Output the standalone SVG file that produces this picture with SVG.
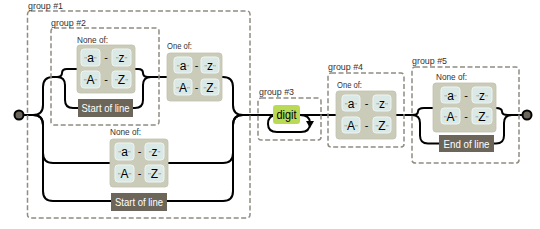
<svg xmlns="http://www.w3.org/2000/svg" width="540" height="229" viewBox="0 0 540 229">
<style>
text{font-family:"Liberation Sans",Arial,sans-serif}
.grp{fill:none;stroke:#908c83;stroke-width:1.5;stroke-dasharray:5,2.5}
.lbl{font-size:9.5px;fill:#333}
.cs{fill:#cbcbba;stroke:#c2c2b0;stroke-width:0.8}
.lit{fill:#dae9e5;stroke:#edf4f2;stroke-width:1}
.lt{font-size:12px;text-anchor:middle;fill:#000}
.q{fill:#908c83;font-size:8px}
.dash{font-size:11px;text-anchor:middle;fill:#000}
.anc{fill:#6b6659}
.at{font-size:11.5px;fill:#fff;text-anchor:middle}
.ln{fill:none;stroke:#000;stroke-width:2}
.term{fill:#6b6659;stroke:#000;stroke-width:2}
.esc{fill:#bada55}
</style>
<g id="connectors">
<path class="ln" d="M23,115 H33"/>
<path class="ln" d="M33,115 q10,0 10,-10 V87 q0,-10 10,-10 H57"/>
<path class="ln" d="M33,115 q10,0 10,10 V153 q0,10 10,10 H110"/>
<path class="ln" d="M33,115 q10,0 10,10 V191 q0,10 10,10 H111"/>
<path class="ln" d="M57,77 q5,0 5,-4 q0,-4 5,-4 H77"/>
<path class="ln" d="M57,77 q8,0 8,8 V100 q0,8 8,8 H78"/>
<path class="ln" d="M135,69 H138 q5,0 5,4 q0,4 5,4 H167"/>
<path class="ln" d="M133,108 H135 q8,0 8,-8 V85 q0,-8 8,-8"/>
<path class="ln" d="M222,77 H223 q10,0 10,10 V105 q0,10 10,10"/>
<path class="ln" d="M168,163 H223 q10,0 10,-10 V125 q0,-10 10,-10"/>
<path class="ln" d="M167,201 H223 q10,0 10,-10 V125 q0,-10 10,-10"/>
<path class="ln" d="M243,115 H273"/>
<path class="ln" d="M300,115 H336"/>
<path class="ln" d="M300,115 q10,0 10,8 q0,9 -9,9 H277 q-9,0 -9,-8 q0,-9 9,-9"/>
<polygon points="306,121 314,121 310,128" fill="#000"/>
<path class="ln" d="M396,115 H412"/>
<path class="ln" d="M412,115 q6,0 6,-3.5 q0,-3.5 6,-3.5 H433"/>
<path class="ln" d="M412,115 q8,0 8,8 V135.5 q0,8 8,8 H439"/>
<path class="ln" d="M496,108 q6,0 6,3.5 q0,3.5 6,3.5 H522"/>
<path class="ln" d="M494,143.5 H496 q8,0 8,-8 V123 q0,-8 8,-8"/>
</g>
<g id="start"><circle class="term" cx="19" cy="115" r="4.5"/></g>
<g id="end"><circle class="term" cx="527" cy="115" r="4.5"/></g>
<g id="group1">
<rect class="grp" x="27.5" y="11" width="222.5" height="207" rx="3"/>
<text class="lbl" x="28" y="9" textLength="35" lengthAdjust="spacingAndGlyphs">group #1</text>
</g>
<g id="group2">
<rect class="grp" x="51" y="28" width="108" height="97" rx="3"/>
<text class="lbl" x="51" y="26" textLength="35" lengthAdjust="spacingAndGlyphs">group #2</text>
</g>
<g id="noneof1">
<text class="lbl" x="77" y="43" textLength="31" lengthAdjust="spacingAndGlyphs">None of:</text>
<rect class="cs" x="77" y="45" width="58" height="48" rx="3"/>
<rect class="lit" x="81" y="49" width="19" height="17" rx="3"/>
<rect class="lit" x="112" y="49" width="19" height="17" rx="3"/>
<rect class="lit" x="81" y="71" width="19" height="17" rx="3"/>
<rect class="lit" x="112" y="71" width="19" height="17" rx="3"/>
<text class="lt" x="90.5" y="62"><tspan class="q">"</tspan>a<tspan class="q">"</tspan></text>
<text class="lt" x="121.5" y="62"><tspan class="q">"</tspan>z<tspan class="q">"</tspan></text>
<text class="lt" x="90.5" y="84"><tspan class="q">"</tspan>A<tspan class="q">"</tspan></text>
<text class="lt" x="121.5" y="84"><tspan class="q">"</tspan>Z<tspan class="q">"</tspan></text>
<text class="dash" x="106" y="61">-</text>
<text class="dash" x="106" y="83">-</text>
</g>
<g id="sol1">
<rect class="anc" x="78" y="99" width="55" height="18"/>
<text class="at" x="105.5" y="112" textLength="48" lengthAdjust="spacingAndGlyphs">Start of line</text>
</g>
<g id="oneof1">
<text class="lbl" x="167" y="49" textLength="25" lengthAdjust="spacingAndGlyphs">One of:</text>
<rect class="cs" x="167" y="53" width="55" height="48" rx="3"/>
<rect class="lit" x="174" y="57" width="18" height="16" rx="3"/>
<rect class="lit" x="201" y="57" width="18" height="16" rx="3"/>
<rect class="lit" x="174" y="79" width="18" height="16" rx="3"/>
<rect class="lit" x="201" y="79" width="18" height="16" rx="3"/>
<text class="lt" x="183" y="69.5"><tspan class="q">"</tspan>a<tspan class="q">"</tspan></text>
<text class="lt" x="210" y="69.5"><tspan class="q">"</tspan>z<tspan class="q">"</tspan></text>
<text class="lt" x="183" y="91.5"><tspan class="q">"</tspan>A<tspan class="q">"</tspan></text>
<text class="lt" x="210" y="91.5"><tspan class="q">"</tspan>Z<tspan class="q">"</tspan></text>
<text class="dash" x="196.5" y="69">-</text>
<text class="dash" x="196.5" y="91">-</text>
</g>
<g id="noneof2">
<text class="lbl" x="110" y="135" textLength="31" lengthAdjust="spacingAndGlyphs">None of:</text>
<rect class="cs" x="110" y="139" width="58" height="48" rx="3"/>
<rect class="lit" x="115" y="143" width="19" height="17" rx="3"/>
<rect class="lit" x="145" y="143" width="19" height="17" rx="3"/>
<rect class="lit" x="115" y="165" width="19" height="17" rx="3"/>
<rect class="lit" x="145" y="165" width="19" height="17" rx="3"/>
<text class="lt" x="124.5" y="156"><tspan class="q">"</tspan>a<tspan class="q">"</tspan></text>
<text class="lt" x="154.5" y="156"><tspan class="q">"</tspan>z<tspan class="q">"</tspan></text>
<text class="lt" x="124.5" y="178"><tspan class="q">"</tspan>A<tspan class="q">"</tspan></text>
<text class="lt" x="154.5" y="178"><tspan class="q">"</tspan>Z<tspan class="q">"</tspan></text>
<text class="dash" x="139.5" y="155">-</text>
<text class="dash" x="139.5" y="177">-</text>
</g>
<g id="sol2">
<rect class="anc" x="111" y="193" width="56" height="18"/>
<text class="at" x="139" y="206" textLength="48" lengthAdjust="spacingAndGlyphs">Start of line</text>
</g>
<g id="group3">
<rect class="grp" x="258" y="98" width="63" height="42" rx="3"/>
<text class="lbl" x="259" y="95" textLength="35" lengthAdjust="spacingAndGlyphs">group #3</text>
<rect class="esc" x="273" y="105" width="27" height="19" rx="3"/>
<text x="286.5" y="119" font-size="12" text-anchor="middle" fill="#000" textLength="20" lengthAdjust="spacingAndGlyphs">digit</text>
</g>
<g id="group4">
<rect class="grp" x="328" y="73" width="76" height="74" rx="3"/>
<text class="lbl" x="328" y="70" textLength="35" lengthAdjust="spacingAndGlyphs">group #4</text>
<text class="lbl" x="337" y="88" textLength="25" lengthAdjust="spacingAndGlyphs">One of:</text>
<rect class="cs" x="336" y="91" width="60" height="48" rx="3"/>
<rect class="lit" x="342" y="95" width="18" height="16" rx="3"/>
<rect class="lit" x="373" y="95" width="18" height="16" rx="3"/>
<rect class="lit" x="342" y="117" width="18" height="16" rx="3"/>
<rect class="lit" x="373" y="117" width="18" height="16" rx="3"/>
<text class="lt" x="351" y="107.5"><tspan class="q">"</tspan>a<tspan class="q">"</tspan></text>
<text class="lt" x="382" y="107.5"><tspan class="q">"</tspan>z<tspan class="q">"</tspan></text>
<text class="lt" x="351" y="129.5"><tspan class="q">"</tspan>A<tspan class="q">"</tspan></text>
<text class="lt" x="382" y="129.5"><tspan class="q">"</tspan>Z<tspan class="q">"</tspan></text>
<text class="dash" x="366.5" y="107">-</text>
<text class="dash" x="366.5" y="129">-</text>
</g>
<g id="group5">
<rect class="grp" x="412" y="67" width="107" height="96" rx="3"/>
<text class="lbl" x="412" y="64" textLength="35" lengthAdjust="spacingAndGlyphs">group #5</text>
<text class="lbl" x="436" y="80" textLength="31" lengthAdjust="spacingAndGlyphs">None of:</text>
<rect class="cs" x="433" y="83" width="63" height="49" rx="3"/>
<rect class="lit" x="441" y="87" width="19" height="16" rx="3"/>
<rect class="lit" x="472" y="87" width="20" height="16" rx="3"/>
<rect class="lit" x="441" y="108" width="19" height="16" rx="3"/>
<rect class="lit" x="472" y="108" width="20" height="16" rx="3"/>
<text class="lt" x="450.5" y="99.5"><tspan class="q">"</tspan>a<tspan class="q">"</tspan></text>
<text class="lt" x="482" y="99.5"><tspan class="q">"</tspan>z<tspan class="q">"</tspan></text>
<text class="lt" x="450.5" y="120.5"><tspan class="q">"</tspan>A<tspan class="q">"</tspan></text>
<text class="lt" x="482" y="120.5"><tspan class="q">"</tspan>Z<tspan class="q">"</tspan></text>
<text class="dash" x="466" y="99">-</text>
<text class="dash" x="466" y="120">-</text>
<rect class="anc" x="439" y="135" width="55" height="17"/>
<text class="at" x="466.5" y="147.5" textLength="46" lengthAdjust="spacingAndGlyphs">End of line</text>
</g>
</svg>
